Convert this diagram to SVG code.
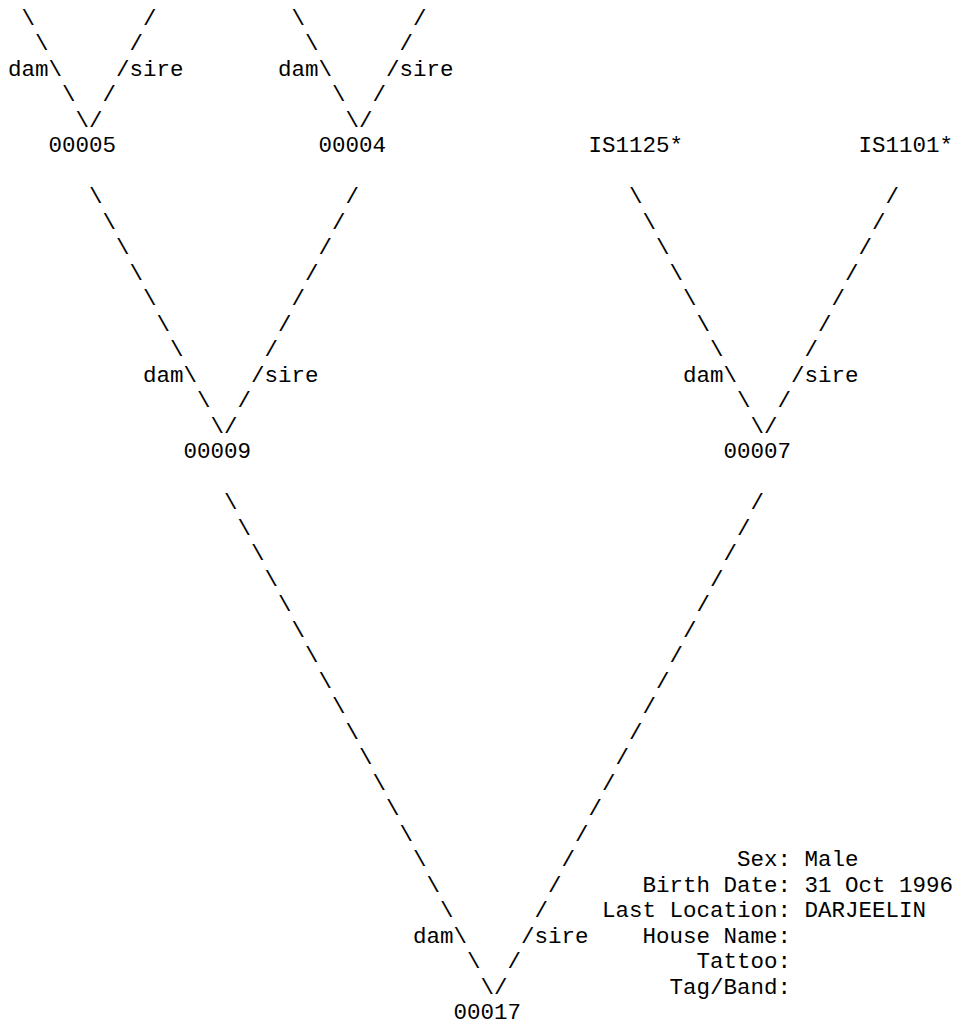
<svg xmlns="http://www.w3.org/2000/svg" width="960" height="1026" viewBox="0 0 960 1026">
<style>
text{font-family:"Liberation Mono","Courier New",monospace;font-size:22.5px;fill:#000;}
</style>
<rect width="960" height="1026" fill="#fff"/>
<g id="connectors">
<!-- 00005 parents (off-page) -->
<text x="21.5" y="24.5">\</text><text x="143" y="24.5">/</text>
<text x="35" y="50">\</text><text x="129.5" y="50">/</text>
<text x="8" y="75.5">dam\</text><text x="116" y="75.5">/sire</text>
<text x="62" y="101">\</text><text x="102.5" y="101">/</text>
<text x="75.5" y="126.5">\/</text>
<!-- 00004 parents (off-page) -->
<text x="291.5" y="24.5">\</text><text x="413" y="24.5">/</text>
<text x="305" y="50">\</text><text x="399.5" y="50">/</text>
<text x="278" y="75.5">dam\</text><text x="386" y="75.5">/sire</text>
<text x="332" y="101">\</text><text x="372.5" y="101">/</text>
<text x="345.5" y="126.5">\/</text>
<!-- 00005 / 00004 -> 00009 -->
<text x="89" y="203">\</text><text x="345.5" y="203">/</text>
<text x="102.5" y="228.5">\</text><text x="332" y="228.5">/</text>
<text x="116" y="254">\</text><text x="318.5" y="254">/</text>
<text x="129.5" y="279.5">\</text><text x="305" y="279.5">/</text>
<text x="143" y="305">\</text><text x="291.5" y="305">/</text>
<text x="156.5" y="330.5">\</text><text x="278" y="330.5">/</text>
<text x="170" y="356">\</text><text x="264.5" y="356">/</text>
<text x="143" y="381.5">dam\</text><text x="251" y="381.5">/sire</text>
<text x="197" y="407">\</text><text x="237.5" y="407">/</text>
<text x="210.5" y="432.5">\/</text>
<!-- IS1125* / IS1101* -> 00007 -->
<text x="629" y="203">\</text><text x="885.5" y="203">/</text>
<text x="642.5" y="228.5">\</text><text x="872" y="228.5">/</text>
<text x="656" y="254">\</text><text x="858.5" y="254">/</text>
<text x="669.5" y="279.5">\</text><text x="845" y="279.5">/</text>
<text x="683" y="305">\</text><text x="831.5" y="305">/</text>
<text x="696.5" y="330.5">\</text><text x="818" y="330.5">/</text>
<text x="710" y="356">\</text><text x="804.5" y="356">/</text>
<text x="683" y="381.5">dam\</text><text x="791" y="381.5">/sire</text>
<text x="737" y="407">\</text><text x="777.5" y="407">/</text>
<text x="750.5" y="432.5">\/</text>
<!-- 00009 / 00007 -> 00017 -->
<text x="224" y="509">\</text><text x="750.5" y="509">/</text>
<text x="237.5" y="534.5">\</text><text x="737" y="534.5">/</text>
<text x="251" y="560">\</text><text x="723.5" y="560">/</text>
<text x="264.5" y="585.5">\</text><text x="710" y="585.5">/</text>
<text x="278" y="611">\</text><text x="696.5" y="611">/</text>
<text x="291.5" y="636.5">\</text><text x="683" y="636.5">/</text>
<text x="305" y="662">\</text><text x="669.5" y="662">/</text>
<text x="318.5" y="687.5">\</text><text x="656" y="687.5">/</text>
<text x="332" y="713">\</text><text x="642.5" y="713">/</text>
<text x="345.5" y="738.5">\</text><text x="629" y="738.5">/</text>
<text x="359" y="764">\</text><text x="615.5" y="764">/</text>
<text x="372.5" y="789.5">\</text><text x="602" y="789.5">/</text>
<text x="386" y="815">\</text><text x="588.5" y="815">/</text>
<text x="399.5" y="840.5">\</text><text x="575" y="840.5">/</text>
<text x="413" y="866">\</text><text x="561.5" y="866">/</text>
<text x="426.5" y="891.5">\</text><text x="548" y="891.5">/</text>
<text x="440" y="917">\</text><text x="534.5" y="917">/</text>
<text x="413" y="942.5">dam\</text><text x="521" y="942.5">/sire</text>
<text x="467" y="968">\</text><text x="507.5" y="968">/</text>
<text x="480.5" y="993.5">\/</text>
</g>
<g id="node-00005"><text x="48.5" y="152">00005</text></g>
<g id="node-00004"><text x="318.5" y="152">00004</text></g>
<g id="node-IS1125"><text x="588.5" y="152">IS1125*</text></g>
<g id="node-IS1101"><text x="858.5" y="152">IS1101*</text></g>
<g id="node-00009"><text x="183.5" y="458">00009</text></g>
<g id="node-00007"><text x="723.5" y="458">00007</text></g>
<g id="node-00017"><text x="453.5" y="1019">00017</text></g>
<g id="details-00017">
<text x="737" y="866">Sex: Male</text>
<text x="642.5" y="891.5">Birth Date: 31 Oct 1996</text>
<text x="602" y="917">Last Location: DARJEELIN</text>
<text x="642.5" y="942.5">House Name:</text>
<text x="696.5" y="968">Tattoo:</text>
<text x="669.5" y="993.5">Tag/Band:</text>
</g>
</svg>
